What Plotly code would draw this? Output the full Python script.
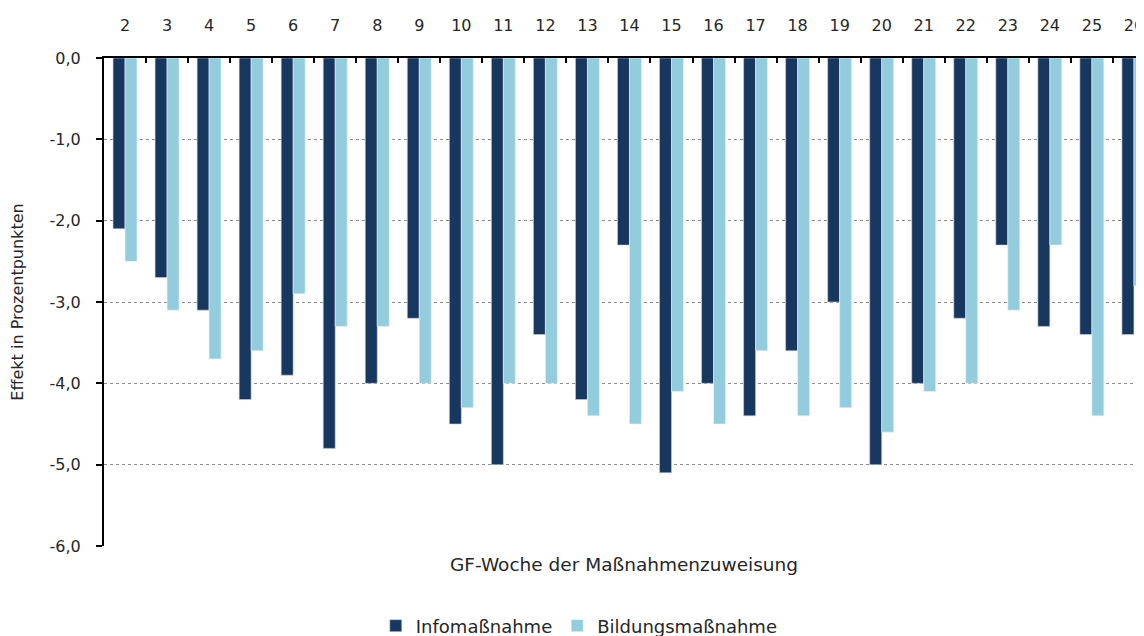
import plotly.graph_objects as go

weeks = [str(w) for w in range(2, 27)]
info = [-2.1, -2.7, -3.1, -4.2, -3.9, -4.8, -4.0, -3.2, -4.5, -5.0, -3.4, -4.2, -2.3,
        -5.1, -4.0, -4.4, -3.6, -3.0, -5.0, -4.0, -3.2, -2.3, -3.3, -3.4, -3.4]
bildung = [-2.5, -3.1, -3.7, -3.6, -2.9, -3.3, -3.3, -4.0, -4.3, -4.0, -4.0, -4.4, -4.5,
           -4.1, -4.5, -3.6, -4.4, -4.3, -4.6, -4.1, -4.0, -3.1, -2.3, -4.4, -2.8]
y_ticks = [0, -1, -2, -3, -4, -5, -6]
y_tick_labels = ["0,0", "-1,0", "-2,0", "-3,0", "-4,0", "-5,0", "-6,0"]

FONT = "'DejaVu Sans', sans-serif"
TXT = "#262626"

fig = go.Figure()
fig.add_trace(go.Bar(x=weeks, y=info, name="Infomaßnahme",
                     marker=dict(color="#17375E", line=dict(color="#c8d4e0", width=0.6))))
fig.add_trace(go.Bar(x=weeks, y=bildung, name="Bildungsmaßnahme",
                     marker=dict(color="#93CDDD", line=dict(color="#e6f4f8", width=0.6))))

fig.update_layout(
    width=1136, height=628,
    margin=dict(l=96, r=0, t=50, b=90),
    paper_bgcolor="white", plot_bgcolor="white",
    barmode="group", bargap=0.43, bargroupgap=0.0,
    font=dict(family=FONT, size=16, color=TXT),
    showlegend=True,
    legend=dict(orientation="h", x=0.457, xanchor="center",
                yref="container", y=0.016, yanchor="middle",
                font=dict(size=18, color=TXT), itemwidth=30, traceorder="normal"),
    xaxis=dict(
        side="top", type="category", range=[-0.5, 24.24], automargin=False,
        showline=True, linecolor="black", linewidth=1.5,
        ticks="inside", tickson="boundaries", ticklen=5, tickcolor="black", tickwidth=1.5,
        ticklabelstandoff=19,
        tickfont=dict(size=16, color=TXT), showgrid=False, zeroline=False,
    ),
    yaxis=dict(
        range=[-6, 0], tickvals=y_ticks, ticktext=y_tick_labels, automargin=False,
        showline=True, linecolor="black", linewidth=2,
        ticks="outside", ticklen=6, tickcolor="black", tickwidth=1.5,
        ticklabelstandoff=12,
        showgrid=True, gridcolor="#8c8c8c", griddash="dot", gridwidth=1,
        zeroline=False,
        title=dict(text="Effekt in Prozentpunkten", font=dict(size=16, color=TXT), standoff=24),
        tickfont=dict(size=16, color=TXT),
    ),
    annotations=[dict(text="GF-Woche der Maßnahmenzuweisung", xref="paper", yref="paper",
                      x=0.5, y=-0.037, xanchor="center", yanchor="middle", showarrow=False,
                      font=dict(size=18.5, color=TXT))],
)

fig.write_html("out.html")
